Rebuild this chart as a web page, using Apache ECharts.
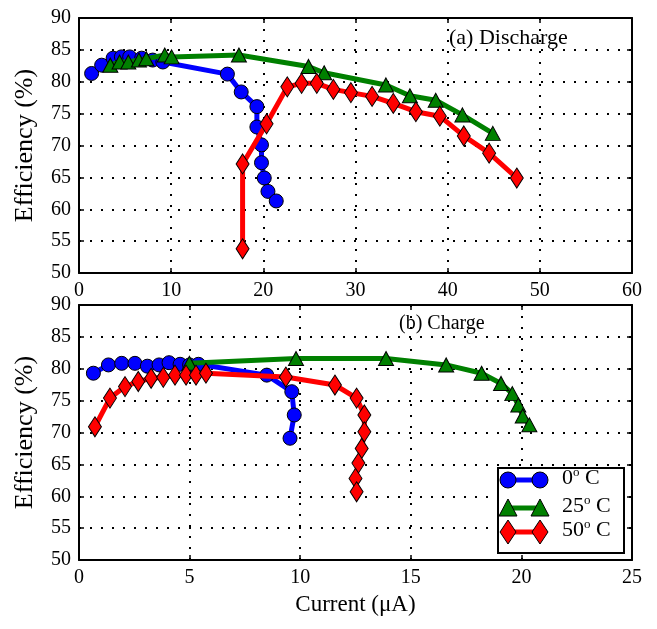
<!DOCTYPE html>
<html>
<head>
<meta charset="utf-8">
<script src="https://cdn.jsdelivr.net/npm/echarts@6/dist/echarts.min.js"></script>
<style>html,body{margin:0;padding:0;background:#fff;}#c{width:657px;height:629px;}</style>
</head>
<body>
<div id="c"></div>
<script>
// ---- Data ----
var seriesNames = ['0° C', '25° C', '50° C'];
var xTicksTop = [0, 10, 20, 30, 40, 50, 60];
var xTicksBottom = [0, 5, 10, 15, 20, 25];
var yTicks = [50, 55, 60, 65, 70, 75, 80, 85, 90];

// (a) Discharge
var disBlueX = [1.37, 2.46, 3.7, 4.6, 5.5, 6.8, 8.0, 9.1, 16.1, 17.6, 19.3, 19.3, 19.8, 19.8, 20.1, 20.5, 21.4];
var disBlueY = [81.3, 82.6, 83.7, 83.9, 83.9, 83.7, 83.4, 83.1, 81.2, 78.4, 76.1, 72.9, 70.1, 67.3, 64.9, 62.8, 61.3];
var disGreenX = [3.4, 4.4, 5.35, 6.5, 7.3, 9.3, 10.05, 17.35, 24.9, 26.6, 33.3, 35.9, 38.7, 41.6, 44.9];
var disGreenY = [82.6, 83.1, 83.1, 83.4, 83.6, 84.2, 83.9, 84.2, 82.4, 81.4, 79.5, 77.8, 77.1, 74.8, 71.9];
var disRedX = [17.75, 17.75, 20.35, 22.6, 24.15, 25.8, 27.6, 29.5, 31.8, 34.1, 36.55, 39.15, 41.75, 44.5, 47.5];
var disRedY = [53.8, 67.1, 73.4, 79.2, 79.75, 79.75, 78.8, 78.3, 77.7, 76.6, 75.3, 74.6, 71.5, 68.8, 64.9];

// (b) Charge
var chBlueX = [0.65, 1.33, 1.93, 2.53, 3.09, 3.62, 4.07, 4.57, 5.0, 5.4, 8.49, 9.62, 9.73, 9.54];
var chBlueY = [79.3, 80.6, 80.85, 80.85, 80.4, 80.6, 80.95, 80.7, 80.6, 80.7, 79.0, 76.4, 72.75, 69.1];
var chGreenX = [4.99, 9.81, 13.88, 16.6, 18.2, 19.08, 19.59, 19.86, 20.06, 20.36];
var chGreenY = [80.85, 81.6, 81.6, 80.6, 79.3, 77.7, 76.1, 74.3, 72.6, 71.2];
var chRedX = [0.72, 1.4, 2.08, 2.68, 3.26, 3.81, 4.34, 4.84, 5.29, 5.74, 9.35, 11.57, 12.55, 12.9, 12.9, 12.78, 12.63, 12.5, 12.55];
var chRedY = [70.9, 75.4, 77.2, 78.0, 78.5, 78.65, 79.0, 79.0, 79.0, 79.3, 78.7, 77.45, 75.4, 72.75, 70.1, 67.5, 65.2, 62.8, 60.7];

// ---- Build ----
function zip(xs, ys) { return xs.map(function (x, i) { return [x, ys[i]]; }); }
var FONT = 'Liberation Serif';
var TICK_FS = 20;
var colors = ['#0000ff', '#008000', '#ff0000'];
var symbols = ['circle', 'triangle', 'diamond'];
var sizes = [14, [15, 14], [13, 20]];

function mkX(grid, min, max, interval, pos, labels, name) {
  var ax = {
    type: 'value', gridIndex: grid, min: min, max: max, interval: interval, position: pos,
    axisLine: { show: true, onZero: false, lineStyle: { color: '#000', width: 2 } },
    axisTick: { show: true, inside: true, length: 5, lineStyle: { color: '#000', width: 1.5 } },
    axisLabel: { show: labels, color: '#000', fontFamily: FONT, fontSize: TICK_FS, margin: 8 },
    splitLine: { show: pos === 'bottom', lineStyle: { color: '#000', type: [2, 9], width: 2 } }
  };
  if (name) {
    ax.name = name; ax.nameLocation = 'middle'; ax.nameGap = 33;
    ax.nameTextStyle = { color: '#000', fontFamily: FONT, fontSize: 23 };
  }
  return ax;
}
function mkY(grid, pos, labels) {
  var ax = {
    type: 'value', gridIndex: grid, min: yTicks[0], max: yTicks[yTicks.length - 1], interval: yTicks[1] - yTicks[0], position: pos,
    axisLine: { show: true, onZero: false, lineStyle: { color: '#000', width: 2 } },
    axisTick: { show: true, inside: true, length: 5, lineStyle: { color: '#000', width: 1.5 } },
    axisLabel: { show: labels, color: '#000', fontFamily: FONT, fontSize: TICK_FS, margin: 8 },
    splitLine: { show: pos === 'left', lineStyle: { color: '#000', type: [2, 9], width: 2 } }
  };
  if (labels) {
    ax.name = 'Efficiency (%)'; ax.nameLocation = 'middle'; ax.nameGap = 41;
    ax.nameTextStyle = { color: '#000', fontFamily: FONT, fontSize: 26 };
  }
  return ax;
}

function mkSeries(k, data, xi, yi) {
  return {
    type: 'line', name: seriesNames[k], data: data, xAxisIndex: xi, yAxisIndex: yi,
    symbol: symbols[k], symbolSize: sizes[k], z: 3 + k,
    lineStyle: { color: colors[k], width: 5 },
    itemStyle: { color: colors[k], borderColor: '#000', borderWidth: 1 },
    emphasis: { disabled: true }, animation: false
  };
}

// legend graphic
var legendG = [{
  type: 'rect', left: 497, top: 467, shape: { width: 126, height: 85 },
  style: { fill: '#fff', stroke: '#000', lineWidth: 2 }, z: 100
}];
var rowsY = [480, 508, 532];
var rich = {
  n: { fontFamily: FONT, fontSize: 22, color: '#000' },
  s: { fontFamily: FONT, fontSize: 13, color: '#000', padding: [0, 0, 12, 0] }
};
var labelsTxt = ['{n|0}{s|o}{n| C}', '{n|25}{s|o}{n| C}', '{n|50}{s|o}{n| C}'];
rowsY.forEach(function (y, k) {
  legendG.push({ type: 'line', shape: { x1: 508, y1: y, x2: 540, y2: y }, style: { stroke: colors[k], lineWidth: 5 }, z: 101 });
  [508, 540].forEach(function (x) {
    var el;
    if (k === 0) el = { type: 'circle', shape: { cx: x, cy: y, r: 8 } };
    else if (k === 1) el = { type: 'polygon', shape: { points: [[x, y - 9], [x - 9, y + 8], [x + 9, y + 8]] } };
    else el = { type: 'polygon', shape: { points: [[x, y - 12], [x + 8, y], [x, y + 12], [x - 8, y]] } };
    el.style = { fill: colors[k], stroke: '#000', lineWidth: 1 };
    el.z = 102;
    legendG.push(el);
  });
  legendG.push({ type: 'text', left: 562, top: y - 14, style: { text: labelsTxt[k], rich: rich }, z: 102 });
});
legendG.push({ type: 'text', left: 449, top: 27, style: { text: '(a) Discharge', fontFamily: FONT, fontSize: 22, fill: '#000' }, z: 50 });
legendG.push({ type: 'text', left: 399, top: 314, style: { text: '(b) Charge', fontFamily: FONT, fontSize: 20, fill: '#000' }, z: 50 });

var option = {
  animation: false,
  backgroundColor: '#fff',
  grid: [
    { left: 79, top: 18, width: 553, height: 255 },
    { left: 79, top: 305, width: 553, height: 255 }
  ],
  xAxis: [
    mkX(0, xTicksTop[0], xTicksTop[xTicksTop.length - 1], xTicksTop[1] - xTicksTop[0], 'bottom', true),
    mkX(0, xTicksTop[0], xTicksTop[xTicksTop.length - 1], xTicksTop[1] - xTicksTop[0], 'top', false),
    mkX(1, xTicksBottom[0], xTicksBottom[xTicksBottom.length - 1], xTicksBottom[1] - xTicksBottom[0], 'bottom', true, 'Current (μA)'),
    mkX(1, xTicksBottom[0], xTicksBottom[xTicksBottom.length - 1], xTicksBottom[1] - xTicksBottom[0], 'top', false)
  ],
  yAxis: [mkY(0, 'left', true), mkY(0, 'right', false), mkY(1, 'left', true), mkY(1, 'right', false)],
  series: [
    mkSeries(0, zip(disBlueX, disBlueY), 0, 0),
    mkSeries(1, zip(disGreenX, disGreenY), 0, 0),
    mkSeries(2, zip(disRedX, disRedY), 0, 0),
    mkSeries(0, zip(chBlueX, chBlueY), 2, 2),
    mkSeries(1, zip(chGreenX, chGreenY), 2, 2),
    mkSeries(2, zip(chRedX, chRedY), 2, 2)
  ],
  graphic: legendG
};
var chart = echarts.init(document.getElementById('c'), null, { renderer: 'canvas' });
chart.setOption(option);
</script>
</body>
</html>
